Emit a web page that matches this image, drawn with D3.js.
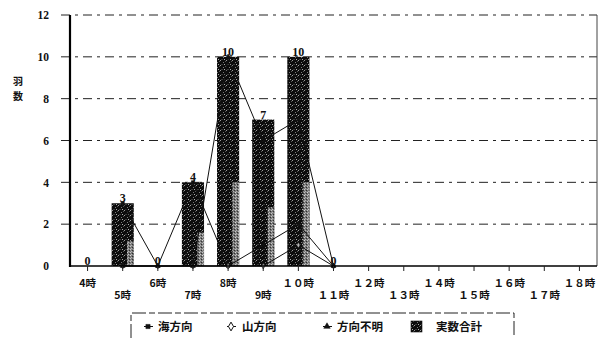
<!DOCTYPE html>
<html>
<head>
<meta charset="utf-8">
<script src="https://cdn.jsdelivr.net/npm/d3@7"></script>
<style>
  html, body { margin: 0; padding: 0; background: #fff; }
  svg { display: block; }
</style>
</head>
<body>
<svg id="chart" width="603" height="338"></svg>
<script>
// Hourly counts of birds by flight direction
const hours = ["4時","5時","6時","7時","8時","9時","１０時","１１時","１２時","１３時","１４時","１５時","１６時","１７時","１８時"];
const totalCount = [0, 3, 0, 4, 10, 7, 10, 0, null, null, null, null, null, null, null];
const seaward    = [null, 3, 0, 4, 0, 1, 2, 0, null, null, null, null, null, null, null];
const landward   = [null, 0, 0, 0, 0, 0, 1, 0, null, null, null, null, null, null, null];
const unknownDir = [null, 0, 0, 0, 10, 6, 7, 0, null, null, null, null, null, null, null];
const yTicks = [0, 2, 4, 6, 8, 10, 12];
const seriesNames = ["海方向", "山方向", "方向不明", "実数合計"];

const svg = d3.select("#chart");
const margin = { left: 70, right: 6, top: 15, bottom: 72 };
const W = 603, H = 338;
const plotW = W - margin.left - margin.right;
const plotH = H - margin.top - margin.bottom;

const jp = "'Noto Sans CJK JP', 'Noto Sans', sans-serif";
const num = "'Liberation Serif', 'DejaVu Serif', serif";

const x = d3.scaleBand().domain(hours).range([0, plotW]).paddingInner(0.37).paddingOuter(0.185);
const y = d3.scaleLinear().domain([0, 12]).range([plotH, 0]);
const cx = h => x(h) + x.bandwidth() / 2;

// textures for the columns
const defs = svg.append("defs");
const dark = defs.append("pattern").attr("id", "darkDither")
  .attr("patternUnits", "userSpaceOnUse").attr("width", 6).attr("height", 5);
dark.append("rect").attr("width", 6).attr("height", 5).attr("fill", "#0c0c0c");
[[0,0,1,1,"#9a9a9a"],[3,2,1,1,"#7a7a7a"],[1,4,2,1,"#3a3a3a"],[5,1,1,1,"#555"],[4,4,1,1,"#b0b0b0"]].forEach(([a,b,w,h,c]) =>
  dark.append("rect").attr("x", a).attr("y", b).attr("width", w).attr("height", h).attr("fill", c));
const light = defs.append("pattern").attr("id", "lightDither")
  .attr("patternUnits", "userSpaceOnUse").attr("width", 3).attr("height", 3);
light.append("rect").attr("width", 3).attr("height", 3).attr("fill", "#8a8a8a");
[[0,0,"#e6e6e6"],[2,1,"#333"],[1,2,"#cfcfcf"]].forEach(([a,b,c]) =>
  light.append("rect").attr("x", a).attr("y", b).attr("width", 1).attr("height", 1).attr("fill", c));

const g = svg.append("g").attr("transform", `translate(${margin.left},${margin.top})`);

// dash-dot gridlines
g.append("g").selectAll("line").data(yTicks.filter(v => v > 0)).join("line")
  .attr("x1", -9).attr("x2", plotW)
  .attr("y1", d => y(d)).attr("y2", d => y(d))
  .attr("stroke", "#222").attr("stroke-width", 1)
  .attr("stroke-dasharray", "9,5,3,5");

// right border
g.append("line").attr("x1", plotW).attr("x2", plotW).attr("y1", 0).attr("y2", plotH)
  .attr("stroke", "#444").attr("stroke-width", 1);

// columns: total count
const barData = hours.map((h, i) => ({ h, v: totalCount[i] })).filter(d => d.v != null);
const bars = g.append("g");
bars.selectAll("rect.main").data(barData.filter(d => d.v > 0)).join("rect")
  .attr("x", d => x(d.h)).attr("width", x.bandwidth())
  .attr("y", d => y(d.v)).attr("height", d => y(0) - y(d.v))
  .attr("fill", "url(#darkDither)");
// lighter shading along the lower right side of each column
bars.selectAll("rect.side").data(barData.filter(d => d.v > 0)).join("rect")
  .attr("x", d => x(d.h) + x.bandwidth() * 0.7).attr("width", x.bandwidth() * 0.3)
  .attr("y", d => y(d.v * 0.4)).attr("height", d => y(0) - y(d.v * 0.4))
  .attr("fill", "url(#lightDither)").attr("opacity", 0.85);

// direction series as lines
const lineGen = d3.line().defined(d => d.v != null).x(d => cx(d.h)).y(d => y(d.v));
const series = [
  { name: seriesNames[0], vals: seaward, marker: "square" },
  { name: seriesNames[1], vals: landward, marker: "diamond" },
  { name: seriesNames[2], vals: unknownDir, marker: "triangle" }
];
const markerSym = { square: d3.symbolSquare, diamond: d3.symbolDiamond, triangle: d3.symbolTriangle };
series.forEach(s => {
  const pts = hours.map((h, i) => ({ h, v: s.vals[i] }));
  g.append("path").datum(pts).attr("d", lineGen)
    .attr("fill", "none").attr("stroke", "#111").attr("stroke-width", 1);
  g.append("g").selectAll("path").data(pts.filter(d => d.v != null)).join("path")
    .attr("transform", d => `translate(${cx(d.h)},${y(d.v)})`)
    .attr("d", d3.symbol(markerSym[s.marker], 10))
    .attr("fill", s.marker === "diamond" ? "#bbb" : "#111")
    .attr("stroke", "#111").attr("stroke-width", 0.6);
});

// value labels on the columns
g.append("g").selectAll("text").data(barData).join("text")
  .attr("x", d => cx(d.h)).attr("y", d => y(d.v) - 1)
  .attr("text-anchor", "middle")
  .attr("font-family", num).attr("font-weight", "bold").attr("font-size", 12)
  .attr("fill", "#111")
  .text(d => d.v);

// y axis
const yAxis = g.append("g").call(d3.axisLeft(y).tickValues(yTicks).tickSize(0).tickPadding(21));
yAxis.select(".domain").remove();
yAxis.selectAll("text").attr("font-family", num).attr("font-weight", "bold")
  .attr("font-size", 11.5).attr("fill", "#111");
g.append("line").attr("x1", 0).attr("x2", 0).attr("y1", 0).attr("y2", plotH + 1)
  .attr("stroke", "#000").attr("stroke-width", 2.2);

// x axis with staggered labels
const xAxis = g.append("g").attr("transform", `translate(0,${plotH})`)
  .call(d3.axisBottom(x).tickSize(5).tickPadding(0));
xAxis.select(".domain").attr("stroke", "#000").attr("stroke-width", 1.6)
  .attr("d", `M0,0H${plotW}`);
xAxis.selectAll(".tick line").attr("stroke", "#222");
xAxis.selectAll(".tick text")
  .attr("font-family", jp).attr("font-weight", "bold").attr("font-size", 10.5)
  .attr("fill", "#111")
  .attr("dy", null)
  .attr("y", (d, i) => i % 2 === 0 ? 21 : 33);

// y axis title, one character per line
["羽", "数"].forEach((c, i) => svg.append("text")
  .attr("x", 18).attr("y", 85 + i * 15)
  .attr("font-family", jp).attr("font-weight", "bold").attr("font-size", 10)
  .attr("fill", "#111").attr("text-anchor", "middle").text(c));

// legend
const lg = svg.append("g");
lg.append("path").attr("d", "M131,338V313H514V338")
  .attr("fill", "none").attr("stroke", "#222").attr("stroke-width", 1)
  .attr("stroke-dasharray", "14,3,6,3");
const legendItems = [
  { name: seriesNames[0], kind: "square", mx: 148, tx: 158 },
  { name: seriesNames[1], kind: "diamond", mx: 231, tx: 242 },
  { name: seriesNames[2], kind: "triangle", mx: 327, tx: 337 },
  { name: seriesNames[3], kind: "bar", mx: 417, tx: 436 }
];
legendItems.forEach(it => {
  if (it.kind === "bar") {
    lg.append("rect").attr("x", it.mx - 6).attr("y", 321).attr("width", 11).attr("height", 11)
      .attr("fill", "url(#darkDither)").attr("stroke", "#111").attr("stroke-width", 0.6);
  } else {
    lg.append("line").attr("x1", it.mx - 4).attr("x2", it.mx + 5).attr("y1", 326.5).attr("y2", 326.5)
      .attr("stroke", "#111").attr("stroke-width", 1);
    lg.append("path").attr("transform", `translate(${it.mx},${326.5})`)
      .attr("d", d3.symbol(markerSym[it.kind], it.kind === "diamond" ? 22 : 18))
      .attr("fill", it.kind === "diamond" ? "#fff" : "#111").attr("stroke", "#111")
      .attr("stroke-width", it.kind === "diamond" ? 1 : 0.5);
  }
  lg.append("text").attr("x", it.tx).attr("y", 331)
    .attr("font-family", jp).attr("font-weight", "bold").attr("font-size", 11.5)
    .attr("fill", "#111").text(it.name);
});
</script>
</body>
</html>
